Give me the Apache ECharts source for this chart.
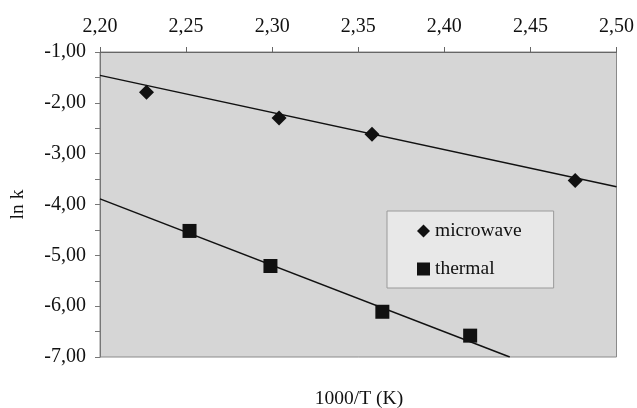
<!DOCTYPE html>
<html>
<head>
    <meta charset="UTF-8">
    <title></title>
</head>
<body style="margin:0">
<div id="main" style="width: 637px;height:408px;"></div>
<script type="text/javascript" src="https://cdn.jsdelivr.net/npm/echarts@6/dist/echarts.min.js"></script>
<script type="text/javascript">
    // data: x = 1000/T, y = ln k
    var microwaveX = [2.227, 2.304, 2.358, 2.476];
    var microwaveY = [-1.79, -2.30, -2.62, -3.53];
    var thermalX = [2.252, 2.299, 2.364, 2.415];
    var thermalY = [-4.52, -5.21, -6.11, -6.58];
    // trend line end points
    var microwaveFitX = [2.20, 2.50];
    var microwaveFitY = [-1.46, -3.65];
    var thermalFitX = [2.20, 2.438];
    var thermalFitY = [-3.89, -7.00];

    function pairs(xs, ys) {
        return xs.map(function (x, i) { return [x, ys[i]]; });
    }
    function comma(v) {
        return v.toFixed(2).replace('.', ',');
    }

    var font = 'Liberation Serif';
    var myChart = echarts.init(document.getElementById('main'));
    var option = {
        animation: false,
        backgroundColor: '#fff',
        textStyle: { fontFamily: font },
        grid: {
            left: 100, right: 19, top: 52, bottom: 51,
            show: true,
            backgroundColor: '#d6d6d6',
            borderColor: '#8a8a8a',
            borderWidth: 1
        },
        legend: {
            orient: 'vertical',
            left: 387, top: 211,
            padding: [10, 32, 9, 30],
            backgroundColor: '#e8e8e8',
            borderColor: '#9a9a9a',
            borderWidth: 1,
            itemWidth: 13, itemHeight: 13,
            itemGap: 18,
            textStyle: { fontFamily: font, fontSize: 19.5, color: '#111', lineHeight: 20 },
            data: [
                { name: 'microwave', icon: 'diamond' },
                { name: 'thermal', icon: 'rect' }
            ]
        },
        graphic: [{
            type: 'text',
            x: 359, y: 399,
            style: {
                text: '1000/T (K)',
                font: '19.5px "Liberation Serif"',
                fill: '#111',
                textAlign: 'center',
                textVerticalAlign: 'middle'
            }
        }],
        xAxis: {
            type: 'value',
            position: 'top',
            min: 2.2, max: 2.5, interval: 0.05,
            axisLine: { lineStyle: { color: '#666', width: 1 } },
            axisTick: { show: true, length: 5, lineStyle: { color: '#666' } },
            axisLabel: { margin: 15, fontSize: 20, color: '#111', fontFamily: font, formatter: comma },
            splitLine: { show: false }
        },
        yAxis: {
            type: 'value',
            min: -7, max: -1, interval: 1,
            name: 'ln k',
            nameLocation: 'middle',
            nameRotate: 90,
            nameGap: 72,
            nameTextStyle: { fontSize: 19.5, color: '#111', fontFamily: font },
            axisLine: { show: true, lineStyle: { color: '#777', width: 1 } },
            axisTick: { show: true, length: 5, lineStyle: { color: '#777' } },
            minorTick: { show: true, splitNumber: 2, length: 5, lineStyle: { color: '#777' } },
            axisLabel: { margin: 14, fontSize: 20, color: '#111', fontFamily: font, formatter: comma },
            splitLine: { show: false }
        },
        series: [
            {
                name: 'microwave fit', type: 'line', data: pairs(microwaveFitX, microwaveFitY),
                symbol: 'none', lineStyle: { color: '#111', width: 1.5 }, z: 2, silent: true
            },
            {
                name: 'thermal fit', type: 'line', data: pairs(thermalFitX, thermalFitY),
                symbol: 'none', lineStyle: { color: '#111', width: 1.5 }, z: 2, silent: true
            },
            {
                name: 'microwave', type: 'scatter', data: pairs(microwaveX, microwaveY),
                symbol: 'diamond', symbolSize: 15, itemStyle: { color: '#111', opacity: 1 }, z: 3
            },
            {
                name: 'thermal', type: 'scatter', data: pairs(thermalX, thermalY),
                symbol: 'rect', symbolSize: 14, itemStyle: { color: '#111', opacity: 1 }, z: 3
            }
        ]
    };
    myChart.setOption(option);
</script>
</body>
</html>
